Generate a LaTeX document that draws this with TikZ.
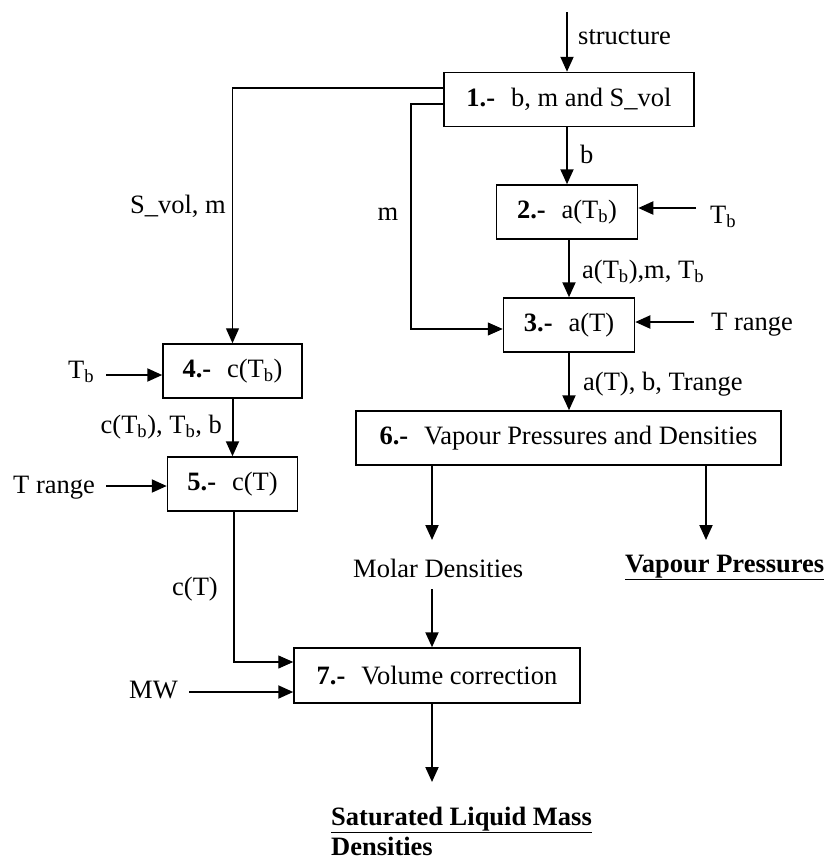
\documentclass[tikz,border=0pt]{standalone}
\usepackage{fontspec}
\setmainfont{Liberation Serif}
\usetikzlibrary{arrows.meta}
\newcommand{\dfs}{\fontsize{26.5}{30}\selectfont}
\begin{document}
\begin{tikzpicture}[x=1pt,y=-1pt,
  box/.style={draw,line width=1.5pt,inner sep=0pt,minimum height=54pt,font=\dfs},
  arr/.style={line width=2pt,-{Triangle[length=15pt,width=13pt]}},
  thinarr/.style={line width=1.2pt,-{Triangle[length=15pt,width=13pt]}},
  lbl/.style={inner sep=0pt,font=\dfs}]
\useasboundingbox (0,0) rectangle (832,862);

% boxes
\node[box,minimum width=250pt] (b1) at (569,99.5) {\textbf{1.-}\hspace{0.6em}b, m and S\_vol};
\node[box,minimum width=141pt] (b2) at (567,212) {\textbf{2.-}\hspace{0.6em}a(T\textsubscript{b})};
\node[box,minimum width=131pt] (b3) at (569,325) {\textbf{3.-}\hspace{0.6em}a(T)};
\node[box,minimum width=139pt] (b4) at (232.5,371) {\textbf{4.-}\hspace{0.6em}c(T\textsubscript{b})};
\node[box,minimum width=130pt] (b5) at (232.5,484) {\textbf{5.-}\hspace{0.6em}c(T)};
\node[box,minimum width=425pt] (b6) at (568.5,438) {\textbf{6.-}\hspace{0.6em}Vapour Pressures and Densities};
\node[box,minimum width=286pt,minimum height=55pt] (b7) at (437,675.5) {\textbf{7.-}\hspace{0.6em}Volume correction};

% labels
\node[lbl,anchor=base west] (lstruct) at (578,44) {structure};
\node[lbl,anchor=base west] (lb) at (580,163) {b};
\node[lbl,anchor=base west] (ltbr) at (710,223) {T\textsubscript{b}};
\node[lbl,anchor=base west] (latb) at (582,278) {a(T\textsubscript{b}),m, T\textsubscript{b}};
\node[lbl,anchor=base west] (ltrr) at (711,330) {T range};
\node[lbl,anchor=base west] (lat) at (583,390) {a(T), b, Trange};
\node[lbl,anchor=base east] (lsvol) at (226,213) {S\_vol, m};
\node[lbl,anchor=base] (lm) at (388,220) {m};
\node[lbl,anchor=base west] (ltbl) at (68,378) {T\textsubscript{b}};
\node[lbl,anchor=base east] (lctb) at (222,433) {c(T\textsubscript{b}), T\textsubscript{b}, b};
\node[lbl,anchor=base west] (ltrl) at (13,493) {T range};
\node[lbl,anchor=base east] (lct) at (218,595) {c(T)};
\node[lbl,anchor=base west] (lmd) at (353,577) {Molar Densities};
\node[lbl,anchor=base west] (lvp) at (625,572) {\underline{\textbf{Vapour Pressures}}};
\node[lbl,anchor=base west] (lmw) at (129,698) {MW};
\node[lbl,anchor=base west] (lsat1) at (331,825) {\underline{\textbf{Saturated Liquid Mass}}};
\node[lbl,anchor=base west] (lsat2) at (331,855) {\textbf{Densities}};

% free ends
\coordinate (cstruct) at (567,12);
\coordinate (tb2) at (696,208);
\coordinate (tr3) at (694,322);
\coordinate (mturn) at (411,104);
\coordinate (md) at (432,540);
\coordinate (md2) at (432,589);
\coordinate (vp) at (706,540);
\coordinate (tb4) at (106,375);
\coordinate (tr5) at (106,486);
\coordinate (ctx) at (234,0);
\coordinate (mw) at (189,692);
\coordinate (out) at (432,782);

% connectors
\draw[arr] (cstruct) -- (cstruct |- b1.north);
\draw[arr] (b1.south -| b2.north) -- (b2.north);
\draw[arr] (tb2) -- (tb2 -| b2.east);
\draw[arr] (b2.south -| b3.north) -- (b3.north);
\draw[arr] (tr3) -- (tr3 -| b3.east);
\draw[arr] (b3.south) -- (b6.north -| b3.south);
\draw[thinarr] ([yshift=11.5pt]b1.west) -| (b4.north);
\draw[thinarr] ([yshift=-4.5pt]b1.west) -- (mturn) |- ([yshift=-4pt]b3.west);
\draw[arr] (b6.south -| md) -- (md);
\draw[arr] (b6.south -| vp) -- (vp);
\draw[arr] (md2) -- (b7.north -| md2);
\draw[arr] (tb4) -- (tb4 -| b4.west);
\draw[arr] (b4.south) -- (b5.north);
\draw[arr] (tr5) -- (tr5 -| b5.west);
\draw[thinarr] (b5.south -| ctx) |- ([yshift=13.5pt]b7.west);
\draw[arr] (mw) -- (mw -| b7.west);
\draw[arr] (b7.south -| out) -- (out);
\end{tikzpicture}
\end{document}
